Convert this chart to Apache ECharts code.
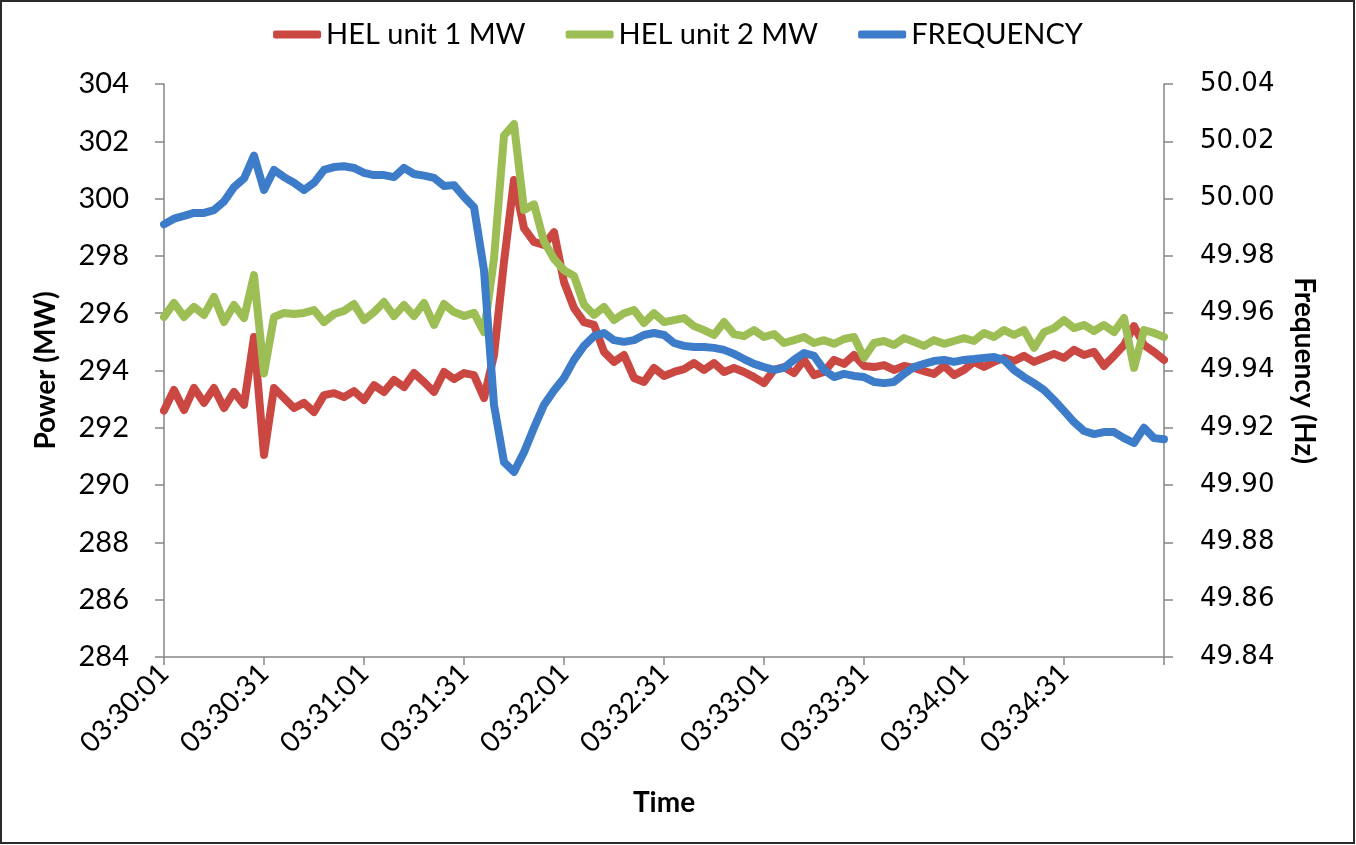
<!DOCTYPE html>
<html>
<head>
<meta charset="utf-8">
<script src="https://cdn.jsdelivr.net/npm/echarts@6/dist/echarts.min.js"></script>
<style>
html,body{margin:0;padding:0;background:#fff;}
#chart{width:1356px;height:845px;}
</style>
</head>
<body>
<div id="chart"></div>
<script>
// Sample spacing: one reading every 3 seconds, starting 03:30:01
const START_LABEL = '03:30:01';
const STEP_SECONDS = 3;
const X_TICKS_SECONDS = 30;

const seriesNames = ['HEL unit 1 MW', 'HEL unit 2 MW', 'FREQUENCY'];

const unit1MW = [
  292.6, 293.32, 292.62, 293.39, 292.87, 293.39, 292.69, 293.25, 292.8, 295.17,
  291.05, 293.39, 293.04, 292.69, 292.87, 292.55, 293.14, 293.21, 293.07, 293.28,
  292.97, 293.49, 293.25, 293.67, 293.42, 293.91, 293.6, 293.25, 293.95, 293.7,
  293.91, 293.84, 293.04, 294.54, 297.79, 300.65, 298.97, 298.49, 298.38, 298.83,
  297.09, 296.18, 295.69, 295.59, 294.65, 294.3, 294.54, 293.74, 293.6, 294.09,
  293.81, 293.95, 294.05, 294.26, 294.02, 294.26, 293.95, 294.09, 293.95, 293.77,
  293.56, 294.02, 294.12, 293.91, 294.37, 293.84, 293.95, 294.37, 294.23, 294.54,
  294.16, 294.12, 294.19, 294.02, 294.16, 294.09, 293.98, 293.88, 294.16, 293.84,
  294.02, 294.3, 294.12, 294.3, 294.44, 294.33, 294.51, 294.3, 294.44, 294.58,
  294.44, 294.72, 294.54, 294.65, 294.16, 294.51, 294.89, 295.55, 294.89, 294.65,
  294.37
];

const unit2MW = [
  295.87, 296.36, 295.87, 296.22, 295.94, 296.57, 295.69, 296.29, 295.83, 297.33,
  293.9, 295.87, 296.01, 295.97, 296.01, 296.11, 295.69, 295.97, 296.08, 296.32,
  295.76, 296.04, 296.39, 295.9, 296.29, 295.9, 296.36, 295.59, 296.32, 296.04,
  295.9, 296.01, 295.34, 297.9, 302.2, 302.6, 299.6, 299.8, 298.5, 297.9,
  297.5, 297.3, 296.3, 295.94, 296.22, 295.76, 296.0, 296.11, 295.66, 296.0,
  295.69, 295.76, 295.83, 295.55, 295.41, 295.24, 295.69, 295.27, 295.2, 295.41,
  295.17, 295.27, 294.96, 295.06, 295.17, 294.96, 295.06, 294.93, 295.1, 295.17,
  294.44, 294.96, 295.03, 294.89, 295.13, 295.0, 294.86, 295.06, 294.93, 295.03,
  295.13, 295.03, 295.31, 295.17, 295.41, 295.24, 295.41, 294.79, 295.34, 295.48,
  295.76, 295.48, 295.59, 295.38, 295.59, 295.34, 295.83, 294.09, 295.41, 295.31,
  295.17
];

const frequencyHz = [
  49.991, 49.993, 49.994, 49.995, 49.995, 49.996, 49.999, 50.004, 50.007, 50.015,
  50.003, 50.010, 50.0075, 50.0055, 50.003, 50.0055, 50.010, 50.011, 50.0113, 50.0107,
  50.009, 50.0082, 50.0082, 50.0075, 50.0107, 50.0086, 50.008, 50.0072, 50.0044, 50.0047,
  50.0006, 49.997, 49.975, 49.928, 49.908, 49.9046, 49.9115, 49.920, 49.928, 49.933,
  49.9374, 49.9437, 49.9486, 49.952, 49.9531, 49.9506, 49.950, 49.9506, 49.9524, 49.9531,
  49.9524, 49.9496, 49.9486, 49.9482, 49.9482, 49.9479, 49.9472, 49.9458, 49.944, 49.9423,
  49.9412, 49.9402, 49.9409, 49.9437, 49.9461, 49.9451, 49.9402, 49.9377, 49.9388, 49.9381,
  49.9377, 49.936, 49.9356, 49.936, 49.9388, 49.9412, 49.9423, 49.9433, 49.9437, 49.943,
  49.9437, 49.944, 49.9444, 49.9447, 49.9437, 49.9402, 49.9377, 49.9356, 49.9332, 49.9297,
  49.9259, 49.922, 49.9189, 49.9178, 49.9185, 49.9185, 49.9164, 49.9147, 49.920, 49.9164,
  49.916
];

const seriesColors = ['#CB4742', '#9DBE55', '#3C7CC8'];

function toPairs(values) {
  return values.map((v, i) => [i * STEP_SECONDS, v]);
}
function timeLabel(sec) {
  const p = START_LABEL.split(':').map(Number);
  let s = p[0] * 3600 + p[1] * 60 + p[2] + Math.round(sec);
  const hh = Math.floor(s / 3600), mm = Math.floor((s % 3600) / 60), ss = s % 60;
  const z = n => (n < 10 ? '0' : '') + n;
  return z(hh) + ':' + z(mm) + ':' + z(ss);
}
const totalSeconds = (unit1MW.length - 1) * STEP_SECONDS;

const chart = echarts.init(document.getElementById('chart'), null, {renderer: 'canvas'});
const axisGray = '#868686';
const calibriLike = 'Lato, "Liberation Sans", sans-serif';
const verdanaLike = '"DejaVu Sans", Verdana, sans-serif';

chart.setOption({
  animation: false,
  backgroundColor: '#ffffff',
  graphic: [{
    type: 'rect', silent: true, z: 100,
    shape: {x: 1, y: 1, width: 1353, height: 842},
    style: {fill: 'none', stroke: '#2b2b2b', lineWidth: 2}
  }],
  legend: {
    top: 15, left: 'center',
    icon: 'roundRect',
    itemWidth: 48, itemHeight: 8, itemGap: 40,
    textStyle: {fontFamily: calibriLike, fontSize: 29, color: '#000'},
    data: seriesNames
  },
  grid: {left: 164, right: 192, top: 84, bottom: 188, containLabel: false},
  xAxis: {
    type: 'value', min: 0, max: totalSeconds, interval: X_TICKS_SECONDS,
    name: 'Time', nameLocation: 'middle', nameGap: 132,
    nameTextStyle: {fontFamily: calibriLike, fontWeight: 'bold', fontSize: 28, color: '#000'},
    axisLine: {show: true, lineStyle: {color: axisGray, width: 1.5}},
    axisTick: {show: true, length: 8, lineStyle: {color: axisGray, width: 1.5}},
    splitLine: {show: false},
    axisLabel: {
      rotate: 45, margin: 12, fontFamily: calibriLike, fontSize: 28, color: '#000',
      showMaxLabel: true,
      formatter: v => (v >= totalSeconds ? '' : timeLabel(v))
    }
  },
  yAxis: [{
    type: 'value', min: 284, max: 304, interval: 2, position: 'left',
    name: 'Power (MW)', nameLocation: 'middle', nameGap: 104, nameRotate: 90,
    nameTextStyle: {fontFamily: calibriLike, fontWeight: 'bold', fontSize: 28, color: '#000'},
    axisLine: {show: true, lineStyle: {color: axisGray, width: 1.5}},
    axisTick: {show: true, length: 9, lineStyle: {color: axisGray, width: 1.5}},
    splitLine: {show: false},
    axisLabel: {margin: 35, fontFamily: calibriLike, fontSize: 29, color: '#000'}
  }, {
    type: 'value', min: 49.84, max: 50.04, interval: 0.02, position: 'right',
    name: 'Frequency (Hz)', nameLocation: 'middle', nameGap: 126, nameRotate: -90,
    nameTextStyle: {fontFamily: calibriLike, fontWeight: 'bold', fontSize: 28, color: '#000'},
    axisLine: {show: true, lineStyle: {color: axisGray, width: 1.5}},
    axisTick: {show: true, length: 9, lineStyle: {color: axisGray, width: 1.5}},
    splitLine: {show: false},
    axisLabel: {margin: 36, fontFamily: verdanaLike, fontSize: 26, color: '#000',
      formatter: v => v.toFixed(2)}
  }],
  series: [{
    name: seriesNames[0], type: 'line', yAxisIndex: 0, showSymbol: false, symbol: 'none',
    data: toPairs(unit1MW), color: seriesColors[0],
    lineStyle: {width: 8, color: seriesColors[0], cap: 'round', join: 'round'}
  }, {
    name: seriesNames[1], type: 'line', yAxisIndex: 0, showSymbol: false, symbol: 'none',
    data: toPairs(unit2MW), color: seriesColors[1],
    lineStyle: {width: 8, color: seriesColors[1], cap: 'round', join: 'round'}
  }, {
    name: seriesNames[2], type: 'line', yAxisIndex: 1, showSymbol: false, symbol: 'none',
    data: toPairs(frequencyHz), color: seriesColors[2],
    lineStyle: {width: 8, color: seriesColors[2], cap: 'round', join: 'round'}
  }]
});
</script>
</body>
</html>
